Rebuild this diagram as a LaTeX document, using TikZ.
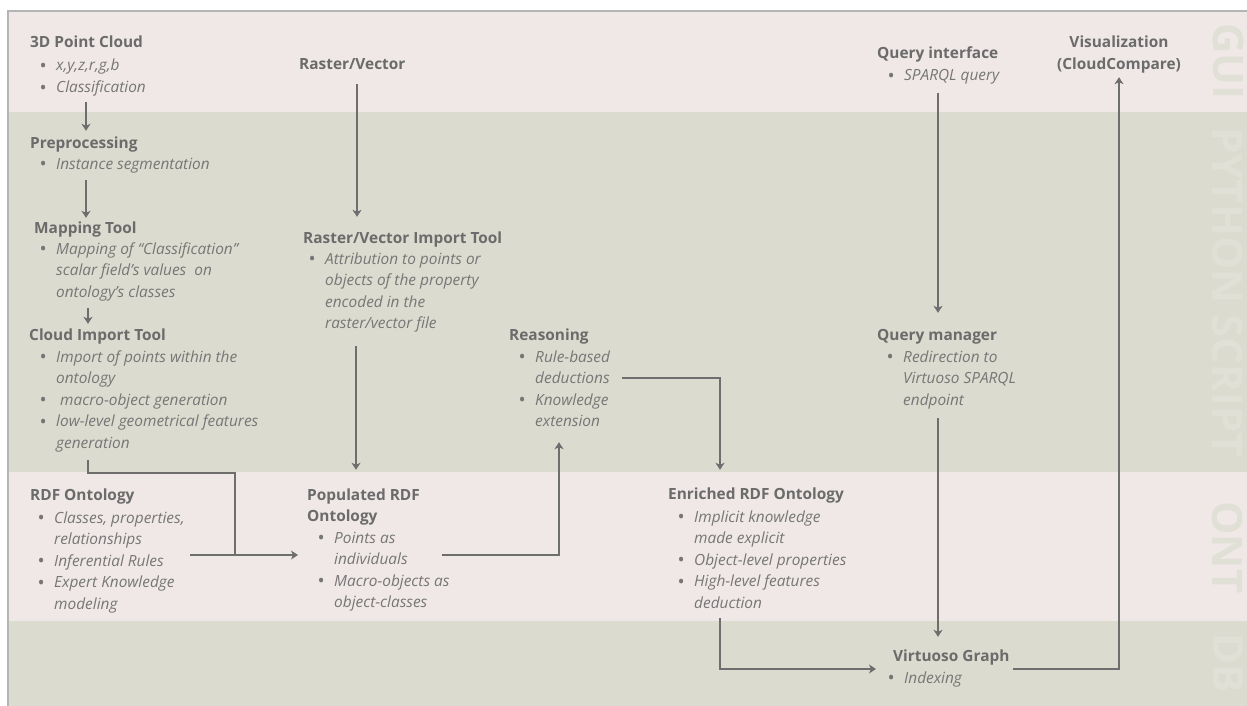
\documentclass[tikz,border=0pt]{standalone}
\usepackage{fontspec}
\setmainfont{Open Sans}
\usetikzlibrary{arrows.meta}
\definecolor{pinkbg}{HTML}{EFE8E6}
\definecolor{greybg}{HTML}{DCDBCF}
\definecolor{hdc}{HTML}{6B6B6B}
\definecolor{btc}{HTML}{767676}
\definecolor{arc}{HTML}{6E6E6E}
\definecolor{sidec}{HTML}{E1E0D6}
\definecolor{framec}{HTML}{B5B5B5}
\newcommand\mystrut{\vrule height 12pt depth 4pt width 0pt}
\newcommand\Dot{\makebox[15.5pt][l]{\hspace*{-1pt}\raisebox{-1.6pt}{\fontsize{19}{19}\selectfont\textbullet}}}
\newcommand\Ln[1]{\hbox{\mystrut #1}}
\newcommand\Bi[1]{\hbox{\mystrut\Dot\textit{#1}}}
\newcommand\Bc[1]{\hbox{\mystrut\hspace*{15.5pt}\textit{#1}}}
\newcommand\Cl[1]{\hbox to 0pt{\hss\mystrut #1\hss}}
\tikzset{
  hd/.style={inner sep=0pt, anchor=base west, text=hdc, font=\fontsize{15.4}{21.5}\selectfont\bfseries},
  bl/.style={inner sep=0pt, anchor=base west, text=btc, font=\fontsize{15.4}{21.5}\selectfont},
  arr/.style={draw=arc, line width=2pt, -{Stealth[length=7pt,width=9pt,inset=2pt]}},
  ln/.style={draw=arc, line width=2pt},
  side/.style={text=sidec, font=\fontsize{42}{42}\selectfont\bfseries, rotate=-90, inner sep=0pt},
}
\begin{document}
\begin{tikzpicture}[x=1pt,y=-1pt]
\useasboundingbox (0,0) rectangle (1247,706);
\fill[white] (0,0) rectangle (1247,706);
% bands
\fill[pinkbg] (8,11) rectangle (1247,112);
\fill[greybg] (8,112) rectangle (1247,472);
\fill[pinkbg] (8,472) rectangle (1247,621);
\fill[greybg] (8,621) rectangle (1247,706);
\draw[framec, line width=1.2pt] (8,706) -- (8,11) -- (1247,11);
% side labels
\node[side] (sGUI) at (1228,61.5) {GUI};
\node[side] (sPY) at (1228,292) {PYTHON SCRIPT};
\node[side] (sONT) at (1228,547.5) {ONT};
\node[side] (sDB) at (1228,663.5) {DB};
% left column
\node[hd] (pcH) at (30,48) {\Ln{3D Point Cloud}};
\node[bl] (pcL) at (40.5,71) {\vtop{\Bi{x,y,z,r,g,b}\Bi{Classification}}};
\node[hd] (ppH) at (30,148) {\Ln{Preprocessing}};
\node[bl] (ppL) at (40.5,169) {\vtop{\Bi{Instance segmentation}}};
\node[hd] (mtH) at (34,233) {\Ln{Mapping Tool}};
\node[bl] (mtL) at (40.5,254) {\vtop{\Bi{Mapping of “Classification”}\Bc{scalar field’s values\ \ on}\Bc{ontology’s classes}}};
\node[hd] (ciH) at (29,340) {\Ln{Cloud Import Tool}};
\node[bl] (ciL) at (40.5,362) {\vtop{\Bi{Import of points within the}\Bc{ontology}\Bi{\ macro-object generation}\Bi{low-level geometrical features}\Bc{generation}}};
\node[hd] (rdfH) at (30,500) {\Ln{RDF Ontology}};
\node[bl] (rdfL) at (38.5,523) {\vtop{\Bi{Classes, properties,}\Bc{relationships}\Bi{Inferential Rules}\Bi{Expert Knowledge}\Bc{modeling}}};
% second column
\node[hd] (rvH) at (299,70) {\Ln{Raster/Vector}};
\node[hd] (rviH) at (303,243) {\Ln{Raster/Vector Import Tool}};
\node[bl] (rviL) at (309.5,264) {\vtop{\Bi{Attribution to points or}\Bc{objects of the property}\Bc{encoded in the}\Bc{raster/vector file}}};
\node[hd] (popH) at (307,500) {\vtop{\Ln{Populated RDF}\Ln{Ontology}}};
\node[bl] (popL) at (318.5,543) {\vtop{\Bi{Points as}\Bc{individuals}\Bi{Macro-objects as}\Bc{object-classes}}};
% third column
\node[hd] (reaH) at (509,340) {\Ln{Reasoning}};
\node[bl] (reaL) at (519.5,362) {\vtop{\Bi{Rule-based}\Bc{deductions}\Bi{Knowledge}\Bc{extension}}};
\node[hd] (enH) at (668,499) {\Ln{Enriched RDF Ontology}};
\node[bl] (enL) at (678.5,522) {\vtop{\Bi{Implicit knowledge}\Bc{made explicit}\Bi{Object-level properties}\Bi{High-level features}\Bc{deduction}}};
% fourth column
\node[hd] (qiH) at (877,59) {\Ln{Query interface}};
\node[bl] (qiL) at (888.5,81) {\vtop{\Bi{SPARQL query}}};
\node[hd] (qmH) at (877,340) {\Ln{Query manager}};
\node[bl] (qmL) at (887.5,362) {\vtop{\Bi{Redirection to}\Bc{Virtuoso SPARQL}\Bc{endpoint}}};
\node[hd] (vgH) at (893,661) {\Ln{Virtuoso Graph}};
\node[bl] (vgL) at (888.5,683) {\vtop{\Bi{Indexing}}};
\node[hd, anchor=base] (vizH) at (1119,48) {\vtop{\Cl{Visualization}\Cl{(CloudCompare)}}};
\coordinate (jn) at (235,555);
% connectors
\draw[arr, shorten <=5.5pt, shorten >=5pt] (pcL.south -| 86,0) -- (ppH.north -| 86,0);
\draw[arr, shorten <=7pt, shorten >=3pt] (ppL.south -| 86,0) -- (mtH.north -| 86,0);
\draw[arr, shorten <=7pt, shorten >=4pt] (mtL.south -| 88,0) -- (ciH.north -| 88,0);
\draw[ln, shorten <=8pt] (ciL.south -| 88,0) -- (88,473) -| (jn);
\draw[arr, shorten <=151.5pt, shorten >=9pt] (rdfL.west |- 0,555) -- (popH.west |- 0,555);
\draw[arr, shorten <=10pt, shorten >=14pt] (rvH.south -| 357,0) -- (rviH.north -| 357,0);
\draw[arr, shorten <=13.5pt, shorten >=18pt] (rviL.south -| 356,0) -- (popH.north -| 356,0);
\draw[arr, shorten <=123.5pt, shorten >=11.5pt] (popL.west |- 0,555) -| (reaL.south -| 559,0);
\draw[arr, shorten <=102.5pt, shorten >=17pt] (reaL.west |- 0,378) -| (enH.north -| 720,0);
\draw[arr, shorten <=6pt, shorten >=17pt] (enL.south -| 720,0) |- (vgH.west |- 0,669);
\draw[arr, shorten <=8pt, shorten >=15pt] (qiL.south -| 938,0) -- (qmH.north -| 938,0);
\draw[arr, shorten <=9pt, shorten >=12pt] (qmL.south -| 938,0) -- (vgH.north -| 938,0);
\draw[arr, shorten <=120pt, shorten >=3.5pt] (vgH.west |- 0,669) -| (vizH.south -| 1119,0);
\end{tikzpicture}
\end{document}
